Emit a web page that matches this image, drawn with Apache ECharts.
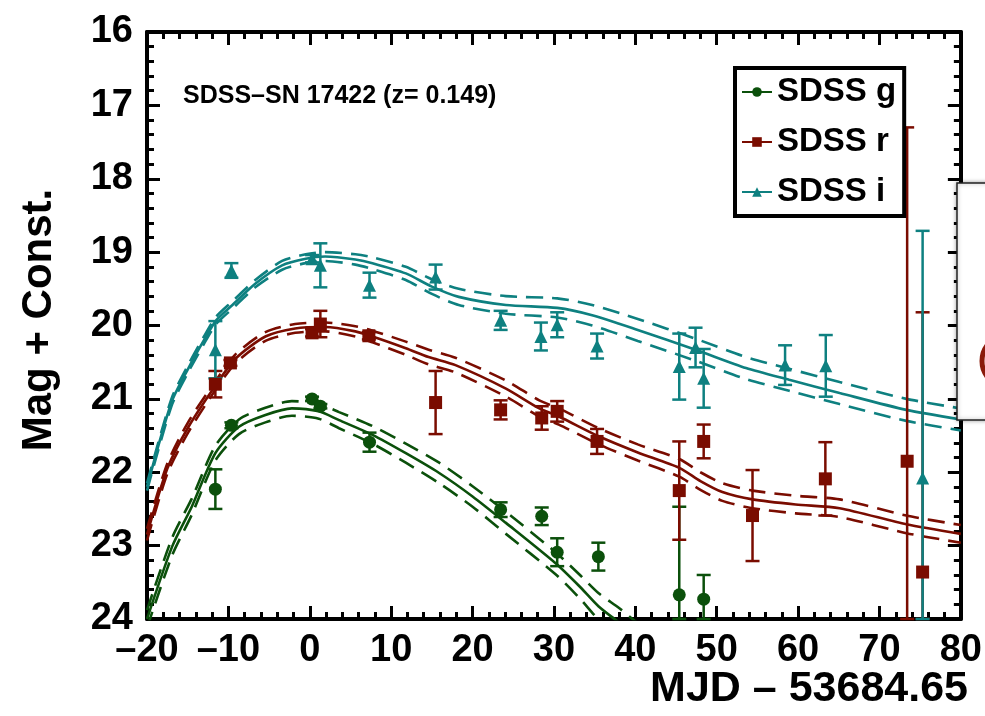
<!DOCTYPE html>
<html>
<head>
<meta charset="utf-8">
<script src="https://cdn.jsdelivr.net/npm/echarts@6/dist/echarts.min.js"></script>
<style>
html,body{margin:0;padding:0;background:#fff;}
#chart{width:985px;height:716px;}
</style>
</head>
<body>
<div id="chart"></div>
<script>
// ---------------- data ----------------
const xTicks = [-20, -10, 0, 10, 20, 30, 40, 50, 60, 70, 80];
const yTicks = [16, 17, 18, 19, 20, 21, 22, 23, 24];

const gT   = [-11.6, -9.63, 0.28, 1.3, 7.34, 23.45, 28.5, 30.4, 35.46, 45.4, 48.4];
const gMag = [22.23, 21.36, 21.0, 21.1, 21.59, 22.51, 22.60, 23.09, 23.15, 23.67, 23.73];
const gErr = [0.27, 0.04, 0.03, 0.03, 0.13, 0.10, 0.12, 0.19, 0.19, 1.20, 0.33];

const rT   = [-11.6, -9.75, 0.28, 1.3, 7.26, 15.46, 23.45, 28.5, 30.4, 35.3, 45.4, 48.4, 54.4, 63.35, 73.4, 75.3];
const rMag = [20.80, 20.51, 20.10, 19.98, 20.14, 21.05, 21.15, 21.26, 21.17, 21.58, 22.25, 21.58, 22.59, 22.09, 21.85, 23.36];
const rErr = [0.18, 0.04, 0.05, 0.18, 0.05, 0.43, 0.13, 0.16, 0.14, 0.17, 0.67, 0.23, 0.62, 0.50, 4.55, 3.54];

const iT   = [-11.6, -9.63, 0.28, 1.3, 7.34, 15.46, 23.45, 28.4, 30.4, 35.3, 45.4, 47.4, 48.4, 58.4, 63.4, 75.3];
const iMag = [20.33, 19.25, 19.09, 19.18, 19.45, 19.34, 19.93, 20.15, 19.99, 20.28, 20.56, 20.30, 20.72, 20.54, 20.55, 22.08];
const iErr = [0.39, 0.10, 0.05, 0.30, 0.17, 0.17, 0.13, 0.19, 0.17, 0.17, 0.45, 0.27, 0.40, 0.27, 0.42, 3.37];

// model light curves (solid) and their half-widths (dashed bands)
const gCurveT = [-20, -16.9, -14.5, -11.6, -8.7, -5.45, -2.2, 1.1, 3.6, 7.7, 11.8, 15.9, 20, 24.1, 30.2, 33.1, 35.5, 38, 40, 42];
const gCurveM = [24.0, 23.01, 22.47, 21.74, 21.38, 21.22, 21.13, 21.17, 21.29, 21.49, 21.74, 22.01, 22.33, 22.69, 23.24, 23.55, 23.83, 24.05, 24.25, 24.42];
const gCurveW = [0.12, 0.12, 0.11, 0.10, 0.10, 0.10, 0.10, 0.10, 0.11, 0.12, 0.13, 0.14, 0.14, 0.15, 0.15, 0.16, 0.18, 0.2, 0.22, 0.25];

const rCurveT = [-20, -17.5, -14.9, -11.6, -9.1, -5.45, -1.8, 1.9, 5.6, 7.7, 11.8, 14.6, 17.9, 24.1, 28.2, 30.6, 35.5, 40.3, 45.4, 48, 50.7, 54.4, 59.7, 65.1, 73.3, 80];
const rCurveM = [22.85, 21.95, 21.38, 20.82, 20.45, 20.15, 20.04, 20.02, 20.08, 20.15, 20.31, 20.43, 20.54, 20.86, 21.13, 21.24, 21.51, 21.73, 21.94, 22.12, 22.27, 22.37, 22.44, 22.49, 22.71, 22.84];
const rCurveW = [0.08, 0.07, 0.07, 0.06, 0.06, 0.06, 0.06, 0.06, 0.07, 0.08, 0.09, 0.1, 0.1, 0.11, 0.11, 0.11, 0.11, 0.11, 0.12, 0.12, 0.12, 0.12, 0.12, 0.12, 0.12, 0.12];

const iCurveT = [-20, -17, -15, -13, -11.5, -9.5, -6.7, -3.4, -0.5, 1.9, 5.6, 7.7, 11.8, 15, 18.3, 24.1, 30.4, 34.7, 40.3, 47.4, 53.6, 58.9, 65.1, 73.3, 80];
const iCurveM = [22.2, 21.05, 20.6, 20.2, 19.93, 19.72, 19.43, 19.18, 19.09, 19.06, 19.1, 19.15, 19.29, 19.47, 19.61, 19.72, 19.76, 19.86, 20.06, 20.33, 20.58, 20.74, 20.92, 21.15, 21.28];
const iCurveW = [0.05, 0.05, 0.05, 0.05, 0.05, 0.05, 0.05, 0.06, 0.06, 0.06, 0.07, 0.08, 0.09, 0.1, 0.11, 0.12, 0.13, 0.14, 0.15, 0.15, 0.15, 0.15, 0.15, 0.15, 0.15];

const bandNames = ['SDSS g', 'SDSS r', 'SDSS i'];
const colors = ['#0b500b', '#7a0c00', '#0e8080'];
const titleText = 'SDSS\u2013SN 17422 (z= 0.149)';
const xTitle = 'MJD \u2013 53684.65';
const yTitle = 'Mag + Const.';

// ---------------- chart ----------------
const FONT = 'Liberation Sans Narrow, Liberation Sans, Arial, sans-serif';
const chart = echarts.init(document.getElementById('chart'), null, {renderer: 'canvas'});

function zipPts(t, m) { return t.map((v, k) => [v, m[k]]); }
function errData(t, m, e) { return t.map((v, k) => [v, m[k] - e[k], m[k] + e[k]]); }

function errSeries(name, t, m, e, color) {
  return {
    type: 'custom', name: name + ' err', xAxisIndex: 0, yAxisIndex: 0,
    data: errData(t, m, e), silent: true, z: 3,
    renderItem: function (params, api) {
      const x = api.value(0);
      const lo = Math.max(api.value(1), 16);
      const hi = Math.min(api.value(2), 24);
      const p1 = api.coord([x, lo]);
      const p2 = api.coord([x, hi]);
      const cw = 7;
      const st = {stroke: color, lineWidth: 2.5};
      return {type: 'group', children: [
        {type: 'line', shape: {x1: p1[0], y1: p1[1], x2: p2[0], y2: p2[1]}, style: st},
        {type: 'line', shape: {x1: p1[0] - cw, y1: p1[1], x2: p1[0] + cw, y2: p1[1]}, style: st},
        {type: 'line', shape: {x1: p2[0] - cw, y1: p2[1], x2: p2[0] + cw, y2: p2[1]}, style: st}
      ]};
    }
  };
}
function curveSeries(t, m, color, offsetArr, sign, dashed) {
  const data = t.map((v, k) => [v, m[k] + (offsetArr ? sign * offsetArr[k] : 0)]);
  return {
    type: 'line', data: data, smooth: 0.25, showSymbol: false, silent: true, z: 2,
    clip: true,
    lineStyle: {color: color, width: 2.6, type: dashed ? [17, 9] : 'solid'}
  };
}
function markerSeries(name, t, m, color, symbol, size) {
  return {
    type: 'scatter', name: name + ' pts', data: zipPts(t, m), symbol: symbol, symbolSize: size,
    itemStyle: {color: color, opacity: 1}, z: 4, silent: true
  };
}
function legendSeries(name, color, symbol) {
  return {type: 'line', name: name, data: [], symbol: symbol, symbolSize: 10,
    itemStyle: {color: color, opacity: 1}, lineStyle: {color: color, width: 2.5}};
}

const series = [];
const sets = [
  [gT, gMag, gErr, gCurveT, gCurveM, gCurveW, 'circle', 13],
  [rT, rMag, rErr, rCurveT, rCurveM, rCurveW, 'rect', 13],
  [iT, iMag, iErr, iCurveT, iCurveM, iCurveW, 'triangle', 13]
];
sets.forEach((s, k) => {
  const c = colors[k];
  series.push(curveSeries(s[3], s[4], c, null, 0, false));
  series.push(curveSeries(s[3], s[4], c, s[5], -1, true));
  series.push(curveSeries(s[3], s[4], c, s[5], 1, true));
});
sets.forEach((s, k) => {
  const c = colors[k];
  series.push(errSeries(bandNames[k], s[0], s[1], s[2], c));
  series.push(markerSeries(bandNames[k], s[0], s[1], c, s[6], s[7]));
});
sets.forEach((s, k) => series.push(legendSeries(bandNames[k], colors[k], s[6])));

const tickStyle = {inside: true, length: 13, lineStyle: {color: '#000', width: 3}};
const minorStyle = {show: true, splitNumber: 5, length: 7, lineStyle: {color: '#000', width: 3}};
const lineStyleAx = {show: true, onZero: false, lineStyle: {color: '#000', width: 4}};
const lblStyle = {color: '#000', fontFamily: FONT, fontWeight: 'bold', fontSize: 38};

const option = {
  backgroundColor: '#fff',
  animation: false,
  grid: {left: 147, right: 22, top: 32, bottom: 97},
  xAxis: [
    {type: 'value', min: -20, max: 80, interval: 10, position: 'bottom',
      axisLine: lineStyleAx, axisTick: tickStyle, minorTick: minorStyle, splitLine: {show: false},
      axisLabel: Object.assign({margin: 13, formatter: v => (v < 0 ? '\u2013' + Math.abs(v) : String(v))}, lblStyle)},
    {type: 'value', min: -20, max: 80, interval: 10, position: 'top',
      axisLine: lineStyleAx, axisTick: tickStyle, minorTick: minorStyle, splitLine: {show: false},
      axisLabel: {show: false}}
  ],
  yAxis: [
    {type: 'value', min: 16, max: 24, interval: 1, inverse: true, position: 'left',
      axisLine: lineStyleAx, axisTick: tickStyle, minorTick: minorStyle, splitLine: {show: false},
      axisLabel: Object.assign({margin: 14}, lblStyle)},
    {type: 'value', min: 16, max: 24, interval: 1, inverse: true, position: 'right',
      axisLine: lineStyleAx, axisTick: tickStyle, minorTick: minorStyle, splitLine: {show: false},
      axisLabel: {show: false}}
  ],
  legend: {
    data: bandNames, orient: 'vertical', left: 735, top: 68,
    itemWidth: 30, itemHeight: 12, itemGap: 14,
    padding: [6, 8, 6, 6],
    borderColor: '#000', borderWidth: 4, borderRadius: 0, backgroundColor: '#fff',
    textStyle: {color: '#000', fontFamily: 'Liberation Sans, Arial, sans-serif', fontWeight: 'bold', fontSize: 33, lineHeight: 36},
    selectedMode: false
  },
  graphic: [
    {type: 'text', left: 183, top: 84, z: 10,
      style: {text: titleText, fill: '#000', font: 'bold 25px Liberation Sans, Arial, sans-serif'}},
    {type: 'text', z: 10, x: 39, y: 320, rotation: Math.PI / 2,
      style: {text: yTitle, fill: '#000', font: 'bold 42px ' + FONT, align: 'center', verticalAlign: 'middle'}},
    {type: 'text', z: 10, x: 968, y: 689,
      style: {text: xTitle, fill: '#000', font: 'bold 43px ' + FONT, align: 'right', verticalAlign: 'middle'}},
    // overlapping neighbouring panel at right edge
    {type: 'rect', z: 20, shape: {x: 957, y: 183, width: 60, height: 237},
      style: {fill: '#fff', stroke: '#222', lineWidth: 1.5, shadowBlur: 4, shadowColor: 'rgba(0,0,0,0.35)'}},
    {type: 'circle', z: 21, shape: {cx: 1008, cy: 361, r: 26},
      style: {fill: 'none', stroke: '#8a1a0a', lineWidth: 5}}
  ],
  series: series
};
chart.setOption(option);
</script>
</body>
</html>
